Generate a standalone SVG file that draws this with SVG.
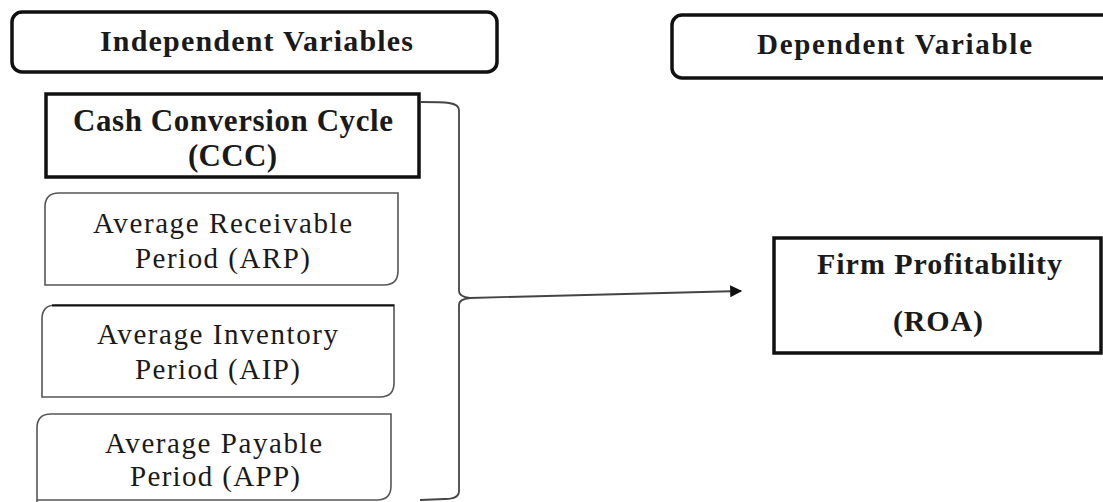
<svg xmlns="http://www.w3.org/2000/svg" width="1103" height="502" viewBox="0 0 1103 502">
<style>
.head{fill:#fff;stroke:#111;stroke-width:3.5}
.sub{fill:#fff;stroke:#555;stroke-width:1.6}
.tb{font-family:"Liberation Serif","Times New Roman",serif;font-weight:bold;fill:#1a1a1a}
.tr{font-family:"Liberation Serif","Times New Roman",serif;fill:#1a1a1a}
.conn{fill:none;stroke:#444;stroke-width:1.8}
</style>
<defs>
<marker id="arr" viewBox="0 0 10 10" refX="9" refY="5" markerWidth="14" markerHeight="12" markerUnits="userSpaceOnUse" orient="auto">
<path d="M0,0 L10,5 L0,10 Z" fill="#111"/>
</marker>
</defs>
<rect width="1103" height="502" fill="#fff"/>
<g id="independent">
<rect class="head" x="12" y="12" width="485" height="60" rx="10"/>
<text class="tb" x="100" y="51" font-size="30" textLength="313" lengthAdjust="spacing">Independent Variables</text>
</g>
<g id="dependent">
<rect class="head" x="672" y="15" width="446" height="63" rx="10"/>
<text class="tb" x="757" y="54" font-size="29" textLength="275" lengthAdjust="spacing">Dependent Variable</text>
</g>
<g id="ccc">
<rect class="head" x="46" y="94" width="373" height="83"/>
<text class="tb" x="73" y="131" font-size="31" textLength="320" lengthAdjust="spacing">Cash Conversion Cycle</text>
<text class="tb" x="188" y="166" font-size="31" textLength="89" lengthAdjust="spacing">(CCC)</text>
</g>
<g id="arp">
<path class="sub" d="M45 207 Q45 193 59 193 L398 193 L398 271 Q398 285 384 285 L45 285 Z"/>
<text class="tr" x="93" y="233" font-size="29" textLength="259" lengthAdjust="spacing">Average Receivable</text>
<text class="tr" x="135" y="268" font-size="29" textLength="175" lengthAdjust="spacing">Period (ARP)</text>
</g>
<g id="aip">
<path class="sub" d="M42 319 Q42 305 56 305 L394 305 L394 383 Q394 397 380 397 L42 397 Z"/>
<path d="M52 305.5 L394 305.5" stroke="#111" stroke-width="2.2" fill="none"/>
<text class="tr" x="97" y="344" font-size="29" textLength="241" lengthAdjust="spacing">Average Inventory</text>
<text class="tr" x="135" y="379" font-size="29" textLength="165" lengthAdjust="spacing">Period (AIP)</text>
</g>
<g id="app">
<path class="sub" d="M37 504 L37 428 Q37 414 51 414 L391 414 L391 486 Q391 500 377 500 L37 500"/>
<text class="tr" x="105" y="453" font-size="29" textLength="217" lengthAdjust="spacing">Average Payable</text>
<text class="tr" x="130" y="486" font-size="29" textLength="170" lengthAdjust="spacing">Period (APP)</text>
</g>
<g id="firm">
<rect class="head" x="774" y="238" width="327" height="115"/>
<text class="tb" x="817" y="274" font-size="30" textLength="245" lengthAdjust="spacing">Firm Profitability</text>
<text class="tb" x="893" y="331" font-size="30" textLength="90" lengthAdjust="spacing">(ROA)</text>
</g>
<g id="connectors">
<path class="conn" d="M421 102 C445 102 459 102 459 110 L459 291 Q459 297 470 298 Q459 299 459 305 L459 491 Q459 499 445 499 L420 500"/>
<path class="conn" d="M470 298 L741 291" stroke="#222" marker-end="url(#arr)"/>
</g>
</svg>
